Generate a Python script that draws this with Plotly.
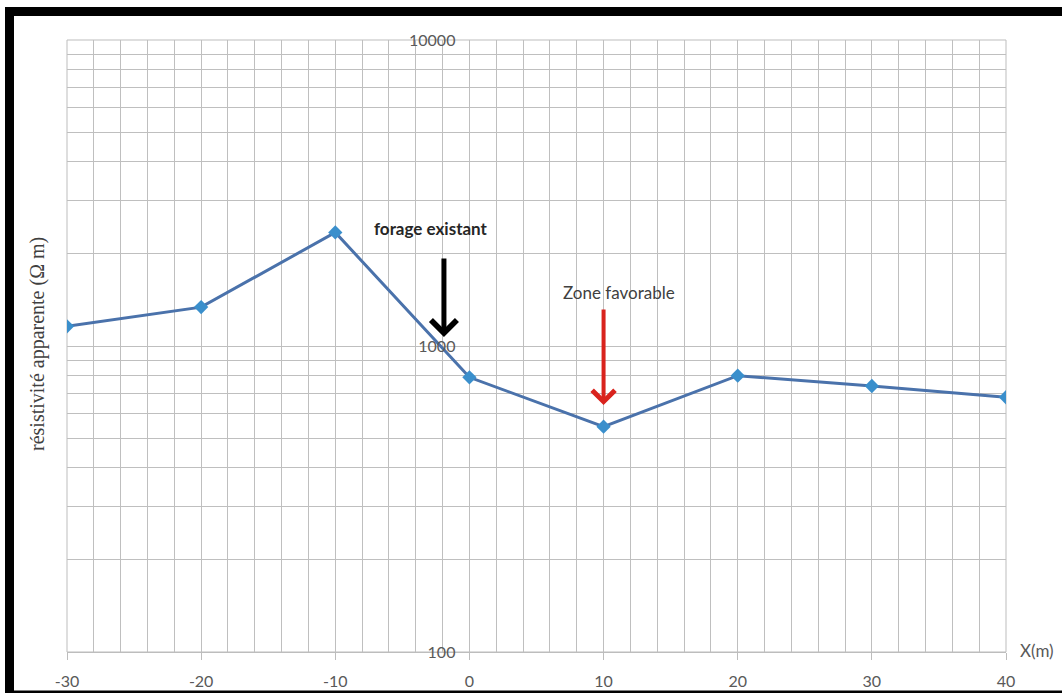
import numpy as np
import plotly.graph_objects as go

# Profil de résistivité apparente le long du traîné
x_m = [-30, -20, -10, 0, 10, 20, 30, 40]
resistivite = [1160, 1340, 2350, 790, 545, 800, 740, 680]

x_ticks = [-30, -20, -10, 0, 10, 20, 30, 40]
y_ticks = [100, 1000, 10000]
y_minor = [m * d for d in (100, 1000) for m in range(2, 10)]

GRID = "#bfbfbf"
TICK_FONT = dict(family="Lato, Open Sans, sans-serif", size=16, color="#595959")

fig = go.Figure()

fig.add_trace(go.Scatter(
    x=x_m, y=resistivite,
    mode="lines+markers",
    line=dict(color="#4a72ab", width=3),
    marker=dict(symbol="diamond", size=11, color="#3a8fcc"),
    showlegend=False,
))

fig.update_layout(
    width=1062, height=693,
    margin=dict(l=67, r=56, t=40, b=41, autoexpand=False),
    paper_bgcolor="white",
    plot_bgcolor="white",
    xaxis=dict(
        range=[-30, 40],
        tickvals=x_ticks,
        ticktext=[str(v) for v in x_ticks],
        showgrid=True, gridcolor=GRID, gridwidth=1,
        minor=dict(dtick=2, tick0=0, showgrid=True, gridcolor=GRID, gridwidth=1, ticks=""),
        showline=True, linecolor="#bdbdbd", linewidth=1,
        ticks="outside", ticklen=7, tickcolor="#bdbdbd",
        tickfont=TICK_FONT,
        ticklabelstandoff=8,
        zeroline=False,
        automargin=False,
    ),
    yaxis=dict(
        type="log",
        range=[2, 4],
        tickvals=y_ticks,
        ticktext=[str(v) for v in y_ticks],
        showgrid=True, gridcolor=GRID, gridwidth=1,
        minor=dict(tickvals=y_minor, showgrid=True, gridcolor=GRID, gridwidth=1, ticks=""),
        anchor="free", position=30 / 70,
        showline=False, ticks="",
        tickfont=TICK_FONT,
        ticklabelstandoff=14,
        zeroline=False,
        automargin=False,
    ),
)

# cadre gris du graphique
fig.add_shape(type="rect", xref="paper", yref="paper", x0=0, y0=0, x1=1, y1=1,
              line=dict(color="#bdbdbd", width=1), layer="below")

# cadre noir extérieur
fig.add_shape(type="rect", xref="paper", yref="paper",
              x0=(9.5 - 67) / 939, x1=(1075 - 67) / 939,
              y0=(652 - 695) / 612, y1=(652 - 11.5) / 612,
              line=dict(color="black", width=9), fillcolor="rgba(0,0,0,0)")

# titre de l'axe vertical
fig.add_annotation(
    text="résistivité apparente (Ω m)",
    xref="paper", yref="paper",
    x=(37 - 67) / 939, y=(652 - 344) / 612,
    xanchor="center", yanchor="middle",
    textangle=-90, showarrow=False,
    font=dict(family="Liberation Serif, serif", size=20, color="#404040"),
)

# titre de l'axe horizontal
fig.add_annotation(
    text="X(m)",
    xref="paper", yref="paper",
    x=(1037 - 67) / 939, y=(652 - 650) / 612,
    xanchor="center", yanchor="middle", showarrow=False,
    font=dict(family="Lato, Open Sans, sans-serif", size=17, color="#595959"),
)

# forage existant
fig.add_annotation(
    text="<b>forage existant</b>",
    x=-2.85, y=np.log10(2430),
    xanchor="center", yanchor="middle", showarrow=False,
    font=dict(family="Lato, Open Sans, sans-serif", size=17, color="#262626"),
)
fig.add_annotation(
    x=-1.9, y=np.log10(1070), ax=0, ay=-80,
    text="", showarrow=True,
    arrowhead=4, arrowsize=1.0, arrowwidth=5, arrowcolor="black",
)

# zone favorable
fig.add_annotation(
    text="Zone favorable",
    x=11.15, y=3.176,
    xanchor="center", yanchor="middle", showarrow=False,
    font=dict(family="Lato, Open Sans, sans-serif", size=17, color="#404040"),
)
fig.add_annotation(
    x=10, y=np.log10(641), ax=0, ay=-97,
    text="", showarrow=True,
    arrowhead=4, arrowsize=1.1, arrowwidth=4, arrowcolor="#d9231d",
)

fig.write_html("out.html")
